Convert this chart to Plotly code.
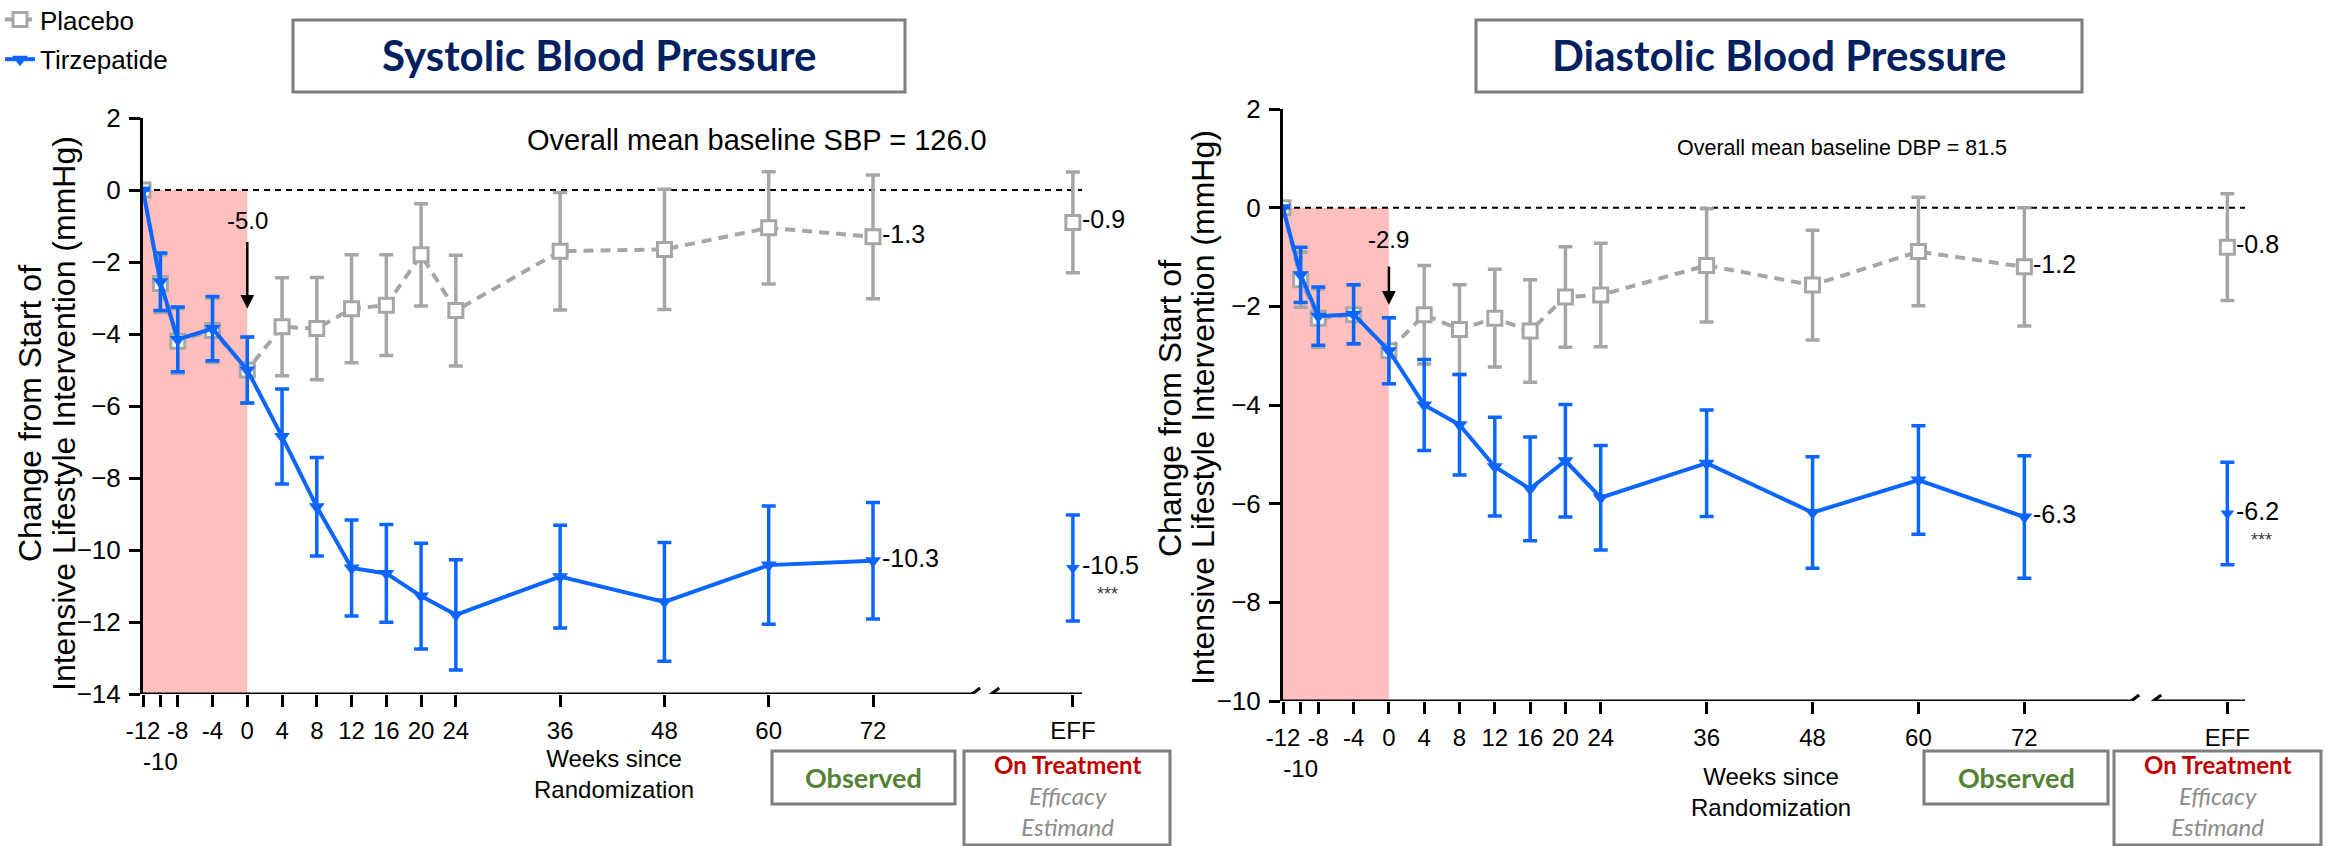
import plotly.graph_objects as go

# ---------------- data ----------------
weeks = [-12, -10, -8, -4, 0, 4, 8, 12, 16, 20, 24, 36, 48, 60, 72]
x_tickvals = [-12, -10, -8, -4, 0, 4, 8, 12, 16, 20, 24, 36, 48, 60, 72, 95]
x_ticktext = ["-12", "<br>-10", "-8", "-4", "0", "4", "8", "12", "16", "20", "24",
              "36", "48", "60", "72", "EFF"]
eff_x = [95]

# Systolic
sbp_placebo = [0, -2.6, -4.2, -3.9, -5.0, -3.8, -3.85, -3.3, -3.2, -1.8, -3.35, -1.7, -1.65, -1.05, -1.3]
sbp_placebo_err = [0, 0.8, 0.9, 0.89, 0.92, 1.36, 1.42, 1.5, 1.4, 1.42, 1.54, 1.63, 1.67, 1.56, 1.72]
sbp_tirz = [0, -2.55, -4.15, -3.85, -5.0, -6.85, -8.8, -10.5, -10.65, -11.28, -11.8, -10.74, -11.44, -10.42, -10.3]
sbp_tirz_err = [0, 0.8, 0.9, 0.89, 0.92, 1.32, 1.37, 1.33, 1.36, 1.47, 1.53, 1.43, 1.65, 1.64, 1.62]
sbp_eff_placebo = [-0.9]
sbp_eff_placebo_err = [1.4]
sbp_eff_tirz = [-10.5]
sbp_eff_tirz_err = [1.47]

# Diastolic
dbp_placebo = [0, -1.46, -2.24, -2.17, -2.9, -2.17, -2.47, -2.24, -2.5, -1.81, -1.77, -1.17, -1.57, -0.89, -1.2]
dbp_placebo_err = [0, 0.56, 0.59, 0.6, 0.67, 1.0, 0.91, 0.99, 1.04, 1.02, 1.05, 1.15, 1.11, 1.1, 1.2]
dbp_tirz = [0, -1.36, -2.2, -2.16, -2.9, -4.0, -4.4, -5.25, -5.7, -5.13, -5.88, -5.18, -6.18, -5.52, -6.27]
dbp_tirz_err = [0, 0.56, 0.59, 0.6, 0.67, 0.92, 1.02, 1.0, 1.05, 1.14, 1.06, 1.08, 1.13, 1.1, 1.24]
dbp_eff_placebo = [-0.8]
dbp_eff_placebo_err = [1.08]
dbp_eff_tirz = [-6.2]
dbp_eff_tirz_err = [1.04]

# ---------------- style ----------------
W, H = 2333, 846
GRAY = "#A6A6A6"
BLUE = "#0A66FF"
PINK = "#FFBFBF"
NAVY = "#002060"
FONT = "Liberation Sans, Arial, sans-serif"
CAL = "Lato, sans-serif"


def fx(p):
    return p / W


def fy(p):
    return 1 - p / H


charts = [
    dict(xa="x", ya="y", xdom=(143, 1082), ydom=(694, 118), xr=(-12, 96.05), yr=(-14, 2),
         pbo=sbp_placebo, pbo_e=sbp_placebo_err, tz=sbp_tirz, tz_e=sbp_tirz_err,
         epbo=sbp_eff_placebo, epbo_e=sbp_eff_placebo_err, etz=sbp_eff_tirz, etz_e=sbp_eff_tirz_err,
         brk=(83.4, 85.6), title="Systolic Blood Pressure", tbox=(293, 905),
         base="Overall mean baseline SBP = 126.0", base_pos=(58.6, 1.4), base_size=29,
         arrow=(-0.85, -1.4, -3.3), ytitle=(30, 64, 414),
         xtitle=(614, 774), obs=(772, 955), ont=(964, 1170)),
    dict(xa="x2", ya="y2", xdom=(1283, 2245), ydom=(701, 109), xr=(-12, 97), yr=(-10, 2),
         pbo=dbp_placebo, pbo_e=dbp_placebo_err, tz=dbp_tirz, tz_e=dbp_tirz_err,
         epbo=dbp_eff_placebo, epbo_e=dbp_eff_placebo_err, etz=dbp_eff_tirz, etz_e=dbp_eff_tirz_err,
         brk=(84.1, 86.6), title="Diastolic Blood Pressure", tbox=(1476, 2082),
         base="Overall mean baseline DBP = 81.5", base_pos=(51.3, 1.2), base_size=21.5,
         arrow=(-0.65, -1.16, -1.97), ytitle=(1170, 1203, 408),
         xtitle=(1771, 792), obs=(1924, 2108), ont=(2114, 2321)),
]

fig = go.Figure()
shapes = []
annotations = []


def paper_text(x, y, text, font, angle=0):
    annotations.append(dict(xref="paper", yref="paper", x=fx(x), y=fy(y), text=text,
                            xanchor="center", yanchor="middle", showarrow=False, font=font,
                            textangle=angle))


for i, c in enumerate(charts):
    xa, ya = c["xa"], c["ya"]
    first = i == 0
    # placebo
    fig.add_trace(go.Scatter(
        x=weeks, y=c["pbo"], xaxis=xa, yaxis=ya, mode="lines+markers", name="Placebo",
        legendgroup="p", showlegend=first,
        line=dict(color=GRAY, width=4, dash="10px,7px"),
        marker=dict(symbol="square", size=14, color="white", line=dict(color=GRAY, width=3)),
        error_y=dict(type="data", array=c["pbo_e"], color=GRAY, thickness=3.5, width=7)))
    fig.add_trace(go.Scatter(
        x=eff_x, y=c["epbo"], xaxis=xa, yaxis=ya, mode="markers", showlegend=False,
        marker=dict(symbol="square", size=14, color="white", line=dict(color=GRAY, width=3)),
        error_y=dict(type="data", array=c["epbo_e"], color=GRAY, thickness=3.5, width=7)))
    # tirzepatide
    fig.add_trace(go.Scatter(
        x=weeks, y=c["tz"], xaxis=xa, yaxis=ya, mode="lines+markers", name="Tirzepatide",
        legendgroup="t", showlegend=first,
        line=dict(color=BLUE, width=4),
        marker=dict(symbol="triangle-down", size=14, color=BLUE),
        error_y=dict(type="data", array=c["tz_e"], color=BLUE, thickness=3.5, width=7)))
    fig.add_trace(go.Scatter(
        x=eff_x, y=c["etz"], xaxis=xa, yaxis=ya, mode="markers", showlegend=False,
        marker=dict(symbol="triangle-down", size=12, color=BLUE),
        error_y=dict(type="data", array=c["etz_e"], color=BLUE, thickness=3.5, width=7)))

    ymin, ymax = c["yr"]
    xmin, xmax = c["xr"]
    # pink run-in region
    shapes.append(dict(type="rect", xref=xa, yref=ya, x0=-12, x1=0, y0=ymin, y1=0,
                       fillcolor=PINK, line=dict(width=0), layer="below"))
    # zero line
    shapes.append(dict(type="line", xref=xa, yref=ya, x0=-12, x1=xmax, y0=0, y1=0,
                       line=dict(color="black", width=2, dash="6px,5px"), layer="below"))
    # x axis line with break
    b1, b2 = c["brk"]
    shapes.append(dict(type="line", xref=xa, yref=ya, x0=-12, x1=b1, y0=ymin, y1=ymin,
                       line=dict(color="black", width=3)))
    shapes.append(dict(type="line", xref=xa, yref=ya, x0=b2, x1=xmax, y0=ymin, y1=ymin,
                       line=dict(color="black", width=3)))
    pxw = (c["xdom"][1] - c["xdom"][0]) / (xmax - xmin)
    pxh = (c["ydom"][0] - c["ydom"][1]) / (ymax - ymin)
    for b in (b1, b2):
        shapes.append(dict(type="line", xref=xa, yref=ya,
                           x0=b - 8 / pxw, x1=b + 8 / pxw, y0=ymin - 6 / pxh, y1=ymin + 6 / pxh,
                           line=dict(color="black", width=3)))

    # title box
    t0, t1 = c["tbox"]
    shapes.append(dict(type="rect", xref="paper", yref="paper", x0=fx(t0), x1=fx(t1),
                       y0=fy(92), y1=fy(20), line=dict(color="#7F7F7F", width=3)))
    paper_text((t0 + t1) / 2, 55, "<b>" + c["title"] + "</b>",
               dict(family=CAL, size=42, color=NAVY))
    # observed box
    o0, o1 = c["obs"]
    shapes.append(dict(type="rect", xref="paper", yref="paper", x0=fx(o0), x1=fx(o1),
                       y0=fy(804), y1=fy(751), line=dict(color="#7F7F7F", width=3)))
    paper_text((o0 + o1) / 2, 777, "<b>Observed</b>", dict(family=CAL, size=27, color="#548235"))
    # on treatment box
    n0, n1 = c["ont"]
    shapes.append(dict(type="rect", xref="paper", yref="paper", x0=fx(n0), x1=fx(n1),
                       y0=fy(845), y1=fy(751), line=dict(color="#7F7F7F", width=3)))
    paper_text((n0 + n1) / 2, 795,
               "<b><span style='color:#C00000'>On Treatment</span></b><br><i>Efficacy<br>Estimand</i>",
               dict(family=CAL, size=24, color="#8C8C8C"))

    # baseline text
    annotations.append(dict(xref=xa, yref=ya, x=c["base_pos"][0], y=c["base_pos"][1],
                            text=c["base"], showarrow=False, xanchor="center", yanchor="middle",
                            font=dict(family=FONT, size=c["base_size"], color="black")))
    # run-in arrow
    ty, a0, a1 = c["arrow"]
    annotations.append(dict(xref=xa, yref=ya, x=0, y=ty, text=f"{c['tz'][4]:.1f}",
                            showarrow=False, xanchor="center", yanchor="middle",
                            font=dict(family=FONT, size=24, color="black")))
    annotations.append(dict(xref=xa, yref=ya, x=0, y=a1, ax=0, ay=a0, axref=xa, ayref=ya,
                            text="", showarrow=True, arrowhead=2, arrowsize=1.1,
                            arrowwidth=2.5, arrowcolor="black"))
    # end-point labels
    for xv, yv in [(72, c["pbo"][-1]), (72, c["tz"][-1]), (95, c["epbo"][0]), (95, c["etz"][0])]:
        annotations.append(dict(xref=xa, yref=ya, x=xv, y=yv, text=f"{yv:.1f}", xanchor="left",
                                yanchor="middle", xshift=7, yshift=3, showarrow=False,
                                font=dict(family=FONT, size=25, color="black")))
    annotations.append(dict(xref=xa, yref=ya, x=95, y=c["etz"][0], text="***", xanchor="left",
                            yanchor="middle", xshift=22, yshift=-26, showarrow=False,
                            font=dict(family=FONT, size=18, color="#404040")))
    # axis titles
    yx1, yx2, yyc = c["ytitle"]
    paper_text(yx1, yyc, "Change from Start of", dict(family=FONT, size=32, color="black"), -90)
    paper_text(yx2, yyc, "Intensive Lifestyle Intervention (mmHg)",
               dict(family=FONT, size=32, color="black"), -90)
    paper_text(c["xtitle"][0], c["xtitle"][1], "Weeks since<br>Randomization",
               dict(family=FONT, size=24, color="black"))

axis_common_x = dict(showline=False, showgrid=False, zeroline=False, ticks="outside",
                     ticklen=12, tickwidth=2.5, tickcolor="black",
                     tickvals=x_tickvals, ticktext=x_ticktext, ticklabelstandoff=3,
                     tickfont=dict(family=FONT, size=24, color="black"), tickangle=0)
axis_common_y = dict(showline=True, linecolor="black", linewidth=3, showgrid=False,
                     zeroline=False, ticks="outside", ticklen=11, tickwidth=2.5,
                     tickcolor="black", dtick=2, ticklabelstandoff=3,
                     tickfont=dict(family=FONT, size=26, color="black"))

c0, c1 = charts
fig.update_layout(
    width=W, height=H, margin=dict(l=0, r=0, t=0, b=0, autoexpand=False),
    plot_bgcolor="white", paper_bgcolor="white",
    xaxis=dict(domain=[fx(c0["xdom"][0]), fx(c0["xdom"][1])], range=list(c0["xr"]), anchor="y",
               **axis_common_x),
    yaxis=dict(domain=[fy(c0["ydom"][0]), fy(c0["ydom"][1])], range=list(c0["yr"]), anchor="x",
               **axis_common_y),
    xaxis2=dict(domain=[fx(c1["xdom"][0]), fx(c1["xdom"][1])], range=list(c1["xr"]), anchor="y2",
                **axis_common_x),
    yaxis2=dict(domain=[fy(c1["ydom"][0]), fy(c1["ydom"][1])], range=list(c1["yr"]), anchor="x2",
                **axis_common_y),
    shapes=shapes, annotations=annotations,
    legend=dict(x=0, y=1 + 4 / H, xanchor="left", yanchor="top", bgcolor="rgba(0,0,0,0)",
                font=dict(family=FONT, size=26, color="black"), tracegroupgap=3,
                itemwidth=30),
    showlegend=True,
)

fig.write_html("out.html", config={"displayModeBar": False},
               post_script="document.body.style.margin='0';")
